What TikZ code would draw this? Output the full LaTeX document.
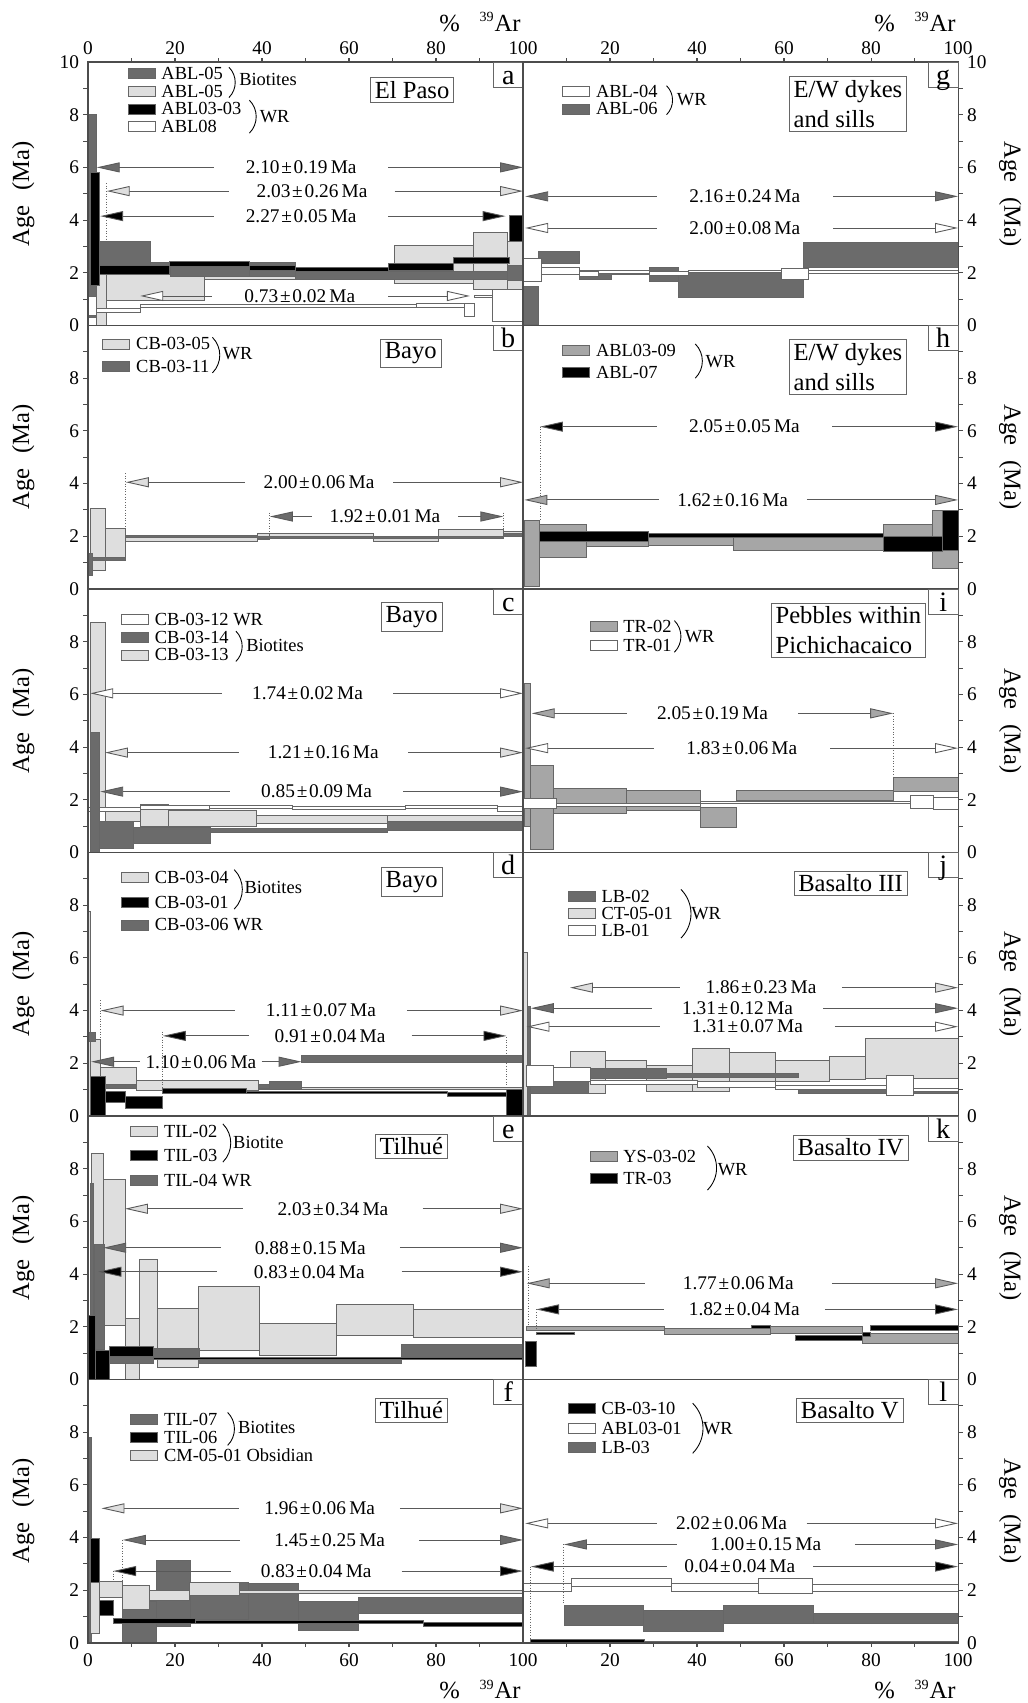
\documentclass[tikz,border=0pt]{standalone}
\usepackage{fontspec}
\setmainfont{Liberation Serif}
\usetikzlibrary{arrows.meta}

\colorlet{dkgr}{black!58}
\colorlet{ltgr}{black!13}
\colorlet{mdgr}{black!35}

\tikzset{
  frame/.style={draw=black!70, line width=0.6pt},
  stp/.style={draw=black!60, line width=0.4pt},
  sdk/.style={stp, fill=dkgr},
  slt/.style={stp, fill=ltgr},
  smd/.style={stp, fill=mdgr},
  sbk/.style={stp, fill=black},
  swt/.style={stp, fill=white},
  ageln/.style={draw=black!65, line width=0.5pt},
  agelab/.style={font=\fontsize{11}{11}\selectfont, inner sep=0pt},
  legtxt/.style={font=\fontsize{10.5}{10}\selectfont, anchor=west, inner sep=0pt},
  namebox/.style={draw=black!60, line width=0.4pt, fill=white, font=\fontsize{14}{17}\selectfont, inner xsep=2.5pt, inner ysep=2pt, align=left},
  letbox/.style={font=\fontsize{16}{16}\selectfont, anchor=base, inner sep=0pt},
  ticklab/.style={font=\fontsize{11}{11}\selectfont, inner sep=0pt},
  axtitle/.style={font=\fontsize{14}{14}\selectfont, inner sep=0pt},
  dots/.style={densely dotted, draw=black!60, line width=0.5pt},
}

% step spectrum: style, list of x1/x2/ylow/yhigh
\newcommand{\specsteps}[2]{\foreach \xa/\xb/\ya/\yb in {#2} \draw[#1] (\xa,\ya) rectangle (\xb,\yb);}
% plateau arrow: fill, x1, x2, y, label x, half gap, label
\newcommand{\agearrow}[7]{%
  \draw[ageln,{Triangle[length=4.6mm,width=2mm,fill=#1]}-] (#2,#4) -- ({#5-#6},#4);
  \draw[ageln,-{Triangle[length=4.6mm,width=2mm,fill=#1]}] ({#5+#6},#4) -- (#3,#4);
  \node[agelab] at (#5,#4) {#7};}
% legend row: style, x, y, text
\newcommand{\legrow}[4]{%
  \draw[#1] (#2,{#3-0.19}) rectangle ({#2+6.2},{#3+0.19});
  \node[legtxt] at ({#2+7.6},#3) {#4};}
% bracket: x, ytop, ybottom, ylabel, text
\newcommand{\grp}[5]{%
  \draw[line width=0.5pt] (#1,#2) to[bend left=45] (#1,#3);
  \node[legtxt] at ({#1+2.3},#4) {#5};}
\newcommand{\leftframe}{%
  \draw[frame] (0,0) rectangle (100,10);
  \foreach \t in {1,...,9} \draw[frame] (0,\t) -- (-1.2,\t);
  \foreach \t in {0,2,4,6,8} \node[ticklab, anchor=east] at (-2,\t) {\t};
  \node[axtitle, rotate=90] at (-14.9,5) {Age\hspace{0.6em}(Ma)};}
\newcommand{\rightframe}{%
  \draw[frame] (0,0) rectangle (100,10);
  \foreach \t in {1,...,9} \draw[frame] (100,\t) -- (101.2,\t);
  \foreach \t in {0,2,4,6,8} \node[ticklab, anchor=west] at (102,\t) {\t};
  \node[axtitle, rotate=-90] at (112,5) {Age\hspace{0.6em}(Ma)};}
\newcommand{\letterbox}[1]{%
  \draw[stp] (93.2,9.05) rectangle (100,10);
  \node[letbox] at (96.6,9.16) {#1};}
\newcommand{\pmsep}{\kern1pt±\kern1pt}

\begin{document}
\begin{tikzpicture}
  \fill[white] (0,0) rectangle (20.56,34.06);
  \useasboundingbox (0,0) rectangle (20.56,34.06);

  % ---------- (a) El Paso ----------
  \begin{scope}[shift={(1.76,27.55)}, x=0.087cm, y=0.527cm]
    \specsteps{slt}{2/4.3/0/2.35, 4.3/26.8/0.95/2.0, 26.8/47.7/1.75/2.0, 47.7/70.5/1.8/2.0, 70.5/88.5/1.6/3.05, 88.5/96.5/1.37/3.53, 96.5/100/1.2/3.2}
    \specsteps{sdk}{0/2/0.3/8.0, 2/14.3/2.1/3.18, 14.3/19/2.15/2.4, 19/37/1.85/2.3, 37/47.7/1.85/2.4, 47.7/96.5/1.75/2.05, 96.5/100/1.7/2.3}
    \specsteps{sbk}{0.5/2.6/1.53/5.83, 2.6/18.8/1.95/2.3, 18.8/37/2.25/2.42, 37/47.7/2.1/2.3, 47.7/69/2.05/2.22, 69/84/2.1/2.35, 84/96.8/2.35/2.6, 96.8/100/3.18/4.19}
    \specsteps{swt}{0/2/0.4/1.1, 2/12/0.5/0.65, 12/75.5/0.7/0.8, 75.5/86.5/0.7/0.85, 86.5/88.8/0.35/0.85, 88.8/93/1.05/1.15, 93/100/0.15/1.37}
    \leftframe
    \foreach \t in {10,20,...,90} \draw[frame] (\t,10) -- (\t,10.15);
    \foreach \t in {0,20,...,100} \node[ticklab] at (\t,10.53) {\t};
    \node[ticklab, anchor=east] at (-2,10) {10};
    \node[axtitle, anchor=east] (arTL) at (99.5,11.52) {\%\hspace{0.8em}\textsuperscript{\footnotesize 39}Ar};
    \legrow{sdk}{9.2}{9.55}{ABL-05}
    \legrow{slt}{9.2}{8.87}{ABL-05}
    \legrow{sbk}{9.2}{8.22}{ABL03-03}
    \legrow{swt}{9.2}{7.55}{ABL08}
    \grp{32.4}{9.8}{8.65}{9.33}{Biotites}
    \grp{37.1}{8.55}{7.3}{7.92}{WR}
    \node[namebox] (elpaso) at (74.5,8.94) {El Paso};
    \letterbox{a}
    \draw[dots] (4.3,5.4) -- (4.3,3.2);
    \agearrow{dkgr}{2}{100}{6.0}{49}{20}{2.10\pmsep0.19\,Ma}
    \agearrow{ltgr}{4.3}{100}{5.1}{51.5}{19}{2.03\pmsep0.26\,Ma}
    \agearrow{black}{2.8}{96}{4.15}{49}{20}{2.27\pmsep0.05\,Ma}
    \agearrow{white}{12}{87.8}{1.12}{48.7}{20.3}{0.73\pmsep0.02\,Ma}
  \end{scope}

  % ---------- (g) E/W dykes and sills ----------
  \begin{scope}[shift={(10.46,27.55)}, x=0.087cm, y=0.527cm]
    \specsteps{sdk}{0/3.5/0.05/1.5, 3.5/13/2.35/2.8, 13/20.4/1.75/2.1, 20.4/29/1.95/2.1, 29/35.7/1.66/2.2, 35.7/64.4/1.05/2.04, 64.4/100/2.2/3.14}
    \specsteps{swt}{0/4.3/1.66/2.54, 4.3/13/1.95/2.2, 13/17.4/1.85/2.05, 17.4/29/1.98/2.1, 29/38/1.9/2.05, 38/59.5/2.02/2.1, 59.5/65.6/1.75/2.15, 65.6/100/1.98/2.08}
    \rightframe
    \foreach \t in {10,20,...,90} \draw[frame] (\t,10) -- (\t,10.15);
    \foreach \t in {20,40,...,100} \node[ticklab] at (\t,10.53) {\t};
    \node[ticklab, anchor=west] at (102,10) {10};
    \node[axtitle, anchor=east] (arTR) at (99.5,11.52) {\%\hspace{0.8em}\textsuperscript{\footnotesize 39}Ar};
    \legrow{swt}{9.1}{8.9}{ABL-04}
    \legrow{sdk}{9.1}{8.22}{ABL-06}
    \grp{33}{9.1}{8.0}{8.56}{WR}
    \node[namebox] (ewA) at (74.7,8.41) {E/W dykes\\and sills};
    \letterbox{g}
    \agearrow{dkgr}{0.5}{100}{4.9}{51}{20.3}{2.16\pmsep0.24\,Ma}
    \agearrow{white}{0.5}{100}{3.7}{51}{20.3}{2.00\pmsep0.08\,Ma}
  \end{scope}

  % ---------- (b) Bayo ----------
  \begin{scope}[shift={(1.76,22.28)}, x=0.087cm, y=0.527cm]
    \specsteps{slt}{0.5/3.9/0.72/3.06, 3.9/8.7/1.1/2.3, 8.7/39/1.8/1.99, 39/41.8/1.9/2.1, 41.8/65.6/1.92/2.1, 65.6/80.5/1.8/2.0, 80.5/95.5/1.95/2.25, 95.5/100/2.0/2.2}
    \specsteps{sdk}{0/1/0.53/1.35, 1/8.7/1.1/1.2, 8.7/39/1.95/2.03, 39/95.5/1.93/2.0, 95.5/100/2.0/2.12}
    \leftframe
    \legrow{slt}{3.4}{9.3}{CB-03-05}
    \legrow{sdk}{3.4}{8.44}{CB-03-11}
    \grp{28.6}{9.55}{8.2}{8.95}{WR}
    \node[namebox] (bayoB) at (74.2,8.95) {Bayo};
    \letterbox{b}
    \draw[dots] (8.7,4.4) -- (8.7,2.3);
    \draw[dots] (41.8,2.9) -- (41.8,2.05);
    \draw[dots] (95.5,2.9) -- (95.5,2.2);
    \agearrow{ltgr}{8.7}{100}{4.05}{53.1}{17.1}{2.00\pmsep0.06\,Ma}
    \agearrow{dkgr}{41.8}{95.5}{2.75}{68.25}{16.85}{1.92\pmsep0.01\,Ma}
  \end{scope}

  % ---------- (h) E/W dykes and sills ----------
  \begin{scope}[shift={(10.46,22.28)}, x=0.087cm, y=0.527cm]
    \specsteps{smd}{0.2/3.75/0.09/2.6, 3.75/14.6/1.2/2.47, 14.6/28.8/1.6/1.92, 28.8/48.4/1.65/2.0, 48.4/82.8/1.48/2.0, 82.8/94/1.5/2.45, 94/100/0.78/3.0}
    \specsteps{sbk}{3.75/28.8/1.8/2.2, 28.8/82.8/1.95/2.1, 82.8/96.5/1.42/2.0, 96.5/100/1.45/3.0}
    \rightframe
    \legrow{smd}{9.1}{9.05}{ABL03-09}
    \legrow{sbk}{9.1}{8.22}{ABL-07}
    \grp{39.6}{9.3}{8.0}{8.63}{WR}
    \node[namebox] (ewB) at (74.7,8.43) {E/W dykes\\and sills};
    \letterbox{h}
    \draw[dots] (3.9,6.16) -- (3.9,2.6);
    \agearrow{black}{3.9}{100}{6.16}{50.9}{20.2}{2.05\pmsep0.05\,Ma}
    \agearrow{mdgr}{0.3}{100}{3.38}{48.2}{17.05}{1.62\pmsep0.16\,Ma}
  \end{scope}

  % ---------- (c) Bayo ----------
  \begin{scope}[shift={(1.76,17.01)}, x=0.087cm, y=0.527cm]
    \specsteps{slt}{0.5/3.9/1.6/8.72, 3.9/12/1.2/1.7, 12/18.5/0.98/1.84, 18.5/38.8/1.0/1.6, 38.8/68.7/1.1/1.4, 68.7/100/1.15/1.4}
    \specsteps{swt}{0/12/1.58/1.72, 12/28/1.65/1.8, 28/47/1.68/1.78, 47/73/1.65/1.75, 73/94/1.67/1.77, 94/100/1.55/1.75}
    \specsteps{sdk}{0.6/2.6/0/4.56, 2.6/10.4/0.16/1.2, 10.4/28.2/0.35/0.95, 28.2/68.7/0.75/0.9, 68.7/100/0.85/1.2}
    \leftframe
    \legrow{swt}{7.7}{8.85}{CB-03-12 WR}
    \legrow{sdk}{7.7}{8.17}{CB-03-14}
    \legrow{slt}{7.7}{7.5}{CB-03-13}
    \grp{34}{8.4}{7.25}{7.85}{Biotites}
    \node[namebox] (bayoC) at (74.4,8.94) {Bayo};
    \letterbox{c}
    \agearrow{white}{0.5}{100}{6.04}{50.45}{19.75}{1.74\pmsep0.02\,Ma}
    \agearrow{ltgr}{3.9}{100}{3.79}{54.1}{19.5}{1.21\pmsep0.16\,Ma}
    \agearrow{dkgr}{2.8}{100}{2.31}{52.55}{19.95}{0.85\pmsep0.09\,Ma}
  \end{scope}

  % ---------- (i) Pebbles within Pichichacaico ----------
  \begin{scope}[shift={(10.46,17.01)}, x=0.087cm, y=0.527cm]
    \specsteps{smd}{0.2/1.6/1.0/6.4, 1.6/7/0.12/3.3, 7/23.8/1.49/2.44, 23.8/40.7/1.6/2.34, 40.7/49.1/0.95/1.71, 49.1/85.1/1.97/2.34, 85.1/100/2.31/2.85}
    \specsteps{swt}{0/7.7/1.68/2.05, 7.7/40.7/1.75/1.85, 40.7/89/1.85/1.95, 89/94.3/1.68/2.18, 94.3/100/1.65/2.1}
    \rightframe
    \legrow{smd}{15.4}{8.58}{TR-02}
    \legrow{swt}{15.4}{7.85}{TR-01}
    \grp{34.8}{8.8}{7.6}{8.2}{WR}
    \node[namebox] (pebbles) at (74.8,8.43) {Pebbles within\\Pichichacaico};
    \letterbox{i}
    \draw[dots] (85.1,5.28) -- (85.1,2.85);
    \agearrow{mdgr}{2.0}{85.1}{5.28}{43.55}{19.75}{2.05\pmsep0.19\,Ma}
    \agearrow{white}{0.5}{100}{3.96}{50.3}{20.3}{1.83\pmsep0.06\,Ma}
  \end{scope}

  % ---------- (d) Bayo ----------
  \begin{scope}[shift={(1.76,11.74)}, x=0.087cm, y=0.527cm]
    \specsteps{slt}{0/0.5/0/7.75, 0.5/2.9/1.5/2.92, 2.9/11.2/1.15/1.83, 11.2/39.2/0.99/1.37, 39.2/49.1/1.0/1.2, 49.1/100/1.0/1.1}
    \specsteps{sdk}{0/1.6/2.82/3.18, 2.9/11.2/1.05/1.2, 39.2/41.8/1.05/1.2, 41.8/49.1/1.0/1.3, 49.1/100/2.04/2.29}
    \specsteps{sbk}{0.6/4.1/0/1.49, 4.1/8.7/0.5/0.95, 8.7/17.2/0.29/0.73, 17.2/36.5/0.85/1.05, 36.5/82.5/0.85/0.95, 82.5/96.2/0.75/0.9, 96.2/100/0/1.0}
    \leftframe
    \legrow{slt}{7.7}{9.06}{CB-03-04}
    \legrow{sbk}{7.7}{8.1}{CB-03-01}
    \legrow{sdk}{7.7}{7.25}{CB-03-06 WR}
    \grp{33.6}{9.35}{7.85}{8.67}{Biotites}
    \node[namebox] (bayoD) at (74.4,8.88) {Bayo};
    \letterbox{d}
    \draw[dots] (2.9,4.4) -- (2.9,2.9);
    \draw[dots] (17.2,3.2) -- (17.2,1.05);
    \draw[dots] (96.2,3.0) -- (96.2,1.0);
    \agearrow{ltgr}{2.9}{100}{4.0}{53.55}{19.75}{1.11\pmsep0.07\,Ma}
    \agearrow{black}{17.2}{96.2}{3.04}{55.65}{18.75}{0.91\pmsep0.04\,Ma}
    \agearrow{dkgr}{0.7}{49.1}{2.06}{25.95}{13.95}{1.10\pmsep0.06\,Ma}
  \end{scope}

  % ---------- (j) Basalto III ----------
  \begin{scope}[shift={(10.46,11.74)}, x=0.087cm, y=0.527cm]
    \specsteps{slt}{0/1/0/6.2, 10.8/18.9/0.86/2.47, 18.9/28.4/1.65/2.1, 28.4/39/0.92/1.94, 39/47.4/0.92/2.57, 47.4/57.9/1.11/2.42, 57.9/70.4/1.3/2.13, 70.4/78.6/1.4/2.25, 78.6/100/1.43/2.95}
    \specsteps{sdk}{1/1.8/0/4.15, 1.8/15/0.86/1.37, 15/33/1.43/1.81, 33/63.3/1.45/1.6, 63.3/100/0.85/1.0}
    \specsteps{swt}{0.8/7/1.11/1.94, 7/15.4/1.3/1.85, 15.4/40/1.2/1.35, 40/58/1.1/1.3, 58/83.6/1.0/1.15, 83.6/89.7/0.8/1.56, 89.7/100/0.95/1.05}
    \rightframe
    \legrow{sdk}{10.4}{8.35}{LB-02}
    \legrow{slt}{10.4}{7.69}{CT-05-01}
    \legrow{swt}{10.4}{7.03}{LB-01}
    \grp{36.3}{8.6}{6.75}{7.69}{WR}
    \node[namebox] (basIII) at (75.3,8.83) {Basalto III};
    \letterbox{j}
    \agearrow{ltgr}{10.8}{100}{4.87}{54.7}{18.6}{1.86\pmsep0.23\,Ma}
    \agearrow{dkgr}{1.8}{100}{4.09}{49.3}{19.7}{1.31\pmsep0.12\,Ma}
    \agearrow{white}{0.8}{100}{3.39}{51.6}{20.1}{1.31\pmsep0.07\,Ma}
  \end{scope}

  % ---------- (e) Tilhue ----------
  \begin{scope}[shift={(1.76,6.47)}, x=0.087cm, y=0.527cm]
    \specsteps{slt}{0.8/3.5/1.12/8.58, 3.5/8.5/2.07/7.6, 8.5/11.8/0/2.32, 11.8/16/1.0/4.56, 16/25.4/0.46/2.7, 25.4/39.5/1.1/3.52, 39.5/57/0.9/2.13, 57/74.8/1.69/2.85, 74.8/100/1.6/2.66}
    \specsteps{sdk}{0.5/1.3/0.49/7.45, 1.4/3.7/1.15/5.13, 3.7/15/0.6/1.1, 15/25.7/0.85/1.2, 25.7/72.1/0.6/0.8, 72.1/100/0.8/1.34}
    \specsteps{sbk}{0/1.8/0/2.43, 1.8/4.9/0/1.1, 4.9/15/0.89/1.27, 15/100/0.75/0.85}
    \leftframe
    \legrow{slt}{9.8}{9.4}{TIL-02}
    \legrow{sbk}{9.8}{8.52}{TIL-03}
    \legrow{sdk}{9.8}{7.57}{TIL-04 WR}
    \grp{31}{9.7}{8.25}{8.99}{Biotite}
    \node[namebox] (tilE) at (74.3,8.84) {Tilhué};
    \letterbox{e}
    \agearrow{ltgr}{8.5}{100}{6.48}{56.3}{20.6}{2.03\pmsep0.34\,Ma}
    \agearrow{dkgr}{3.5}{100}{5.0}{51.1}{20.6}{0.88\pmsep0.15\,Ma}
    \agearrow{black}{2.4}{100}{4.09}{50.85}{21.25}{0.83\pmsep0.04\,Ma}
  \end{scope}

  % ---------- (k) Basalto IV ----------
  \begin{scope}[shift={(10.46,6.47)}, x=0.087cm, y=0.527cm]
    \specsteps{smd}{0.85/32.6/1.85/2.03, 32.6/56.8/1.7/1.95, 56.8/77.9/1.75/2.0, 77.9/100/1.37/1.75}
    \specsteps{sbk}{0.5/3/0.49/1.43, 3/11.8/1.7/1.8, 52.6/56.8/1.95/2.05, 62.5/77.9/1.5/1.68, 77.9/79.8/1.65/1.8, 79.8/100/1.88/2.07}
    \rightframe
    \legrow{smd}{15.4}{8.48}{YS-03-02}
    \legrow{sbk}{15.4}{7.63}{TR-03}
    \grp{42.4}{8.86}{7.19}{7.95}{WR}
    \node[namebox] (basIV) at (75.3,8.8) {Basalto IV};
    \letterbox{k}
    \draw[dots] (1.2,4.3) -- (1.2,2.0);
    \draw[dots] (3.0,2.66) -- (3.0,1.85);
    \agearrow{mdgr}{0.85}{100}{3.65}{49.5}{21.5}{1.77\pmsep0.06\,Ma}
    \agearrow{black}{3.0}{100}{2.66}{50.85}{18.55}{1.82\pmsep0.04\,Ma}
  \end{scope}

  % ---------- (f) Tilhue ----------
  \begin{scope}[shift={(1.76,1.2)}, x=0.087cm, y=0.527cm]
    \specsteps{sdk}{0/0.7/0/7.8, 8/15.6/0/1.57, 15.6/23.6/0.62/3.15, 23.6/36.9/0.9/2.3, 36.9/48.4/0.75/2.25, 48.4/62.1/0.49/1.57, 62.1/100/1.13/1.72}
    \specsteps{slt}{0.5/2.6/0.37/2.3, 2.6/8/1.72/2.35, 8/14.1/1.28/2.18, 14.1/23.4/1.63/2.0, 23.4/34.9/1.82/2.3, 34.9/100/1.9/1.98}
    \specsteps{sbk}{0.5/2.6/2.3/3.97, 2.6/5.8/1.06/1.6, 5.8/24.6/0.75/0.93, 24.6/77.1/0.75/0.85, 77.1/100/0.65/0.8}
    \leftframe
    \foreach \t in {10,20,...,90} \draw[frame] (\t,0) -- (\t,-0.15);
    \foreach \t in {0,20,...,100} \node[ticklab] at (\t,-0.65) {\t};
    \node[axtitle, anchor=east] (arBL) at (99.5,-1.78) {\%\hspace{0.8em}\textsuperscript{\footnotesize 39}Ar};
    \legrow{sdk}{9.8}{8.47}{TIL-07}
    \legrow{sbk}{9.8}{7.8}{TIL-06}
    \legrow{slt}{9.8}{7.14}{CM-05-01 Obsidian}
    \grp{32.1}{8.75}{7.5}{8.17}{Biotites}
    \node[namebox] (tilF) at (74.3,8.84) {Tilhué};
    \letterbox{f}
    \draw[dots] (8,3.9) -- (8,2.35);
    \draw[dots] (5.8,2.73) -- (5.8,2.35);
    \agearrow{ltgr}{3.1}{100}{5.11}{53.25}{18.45}{1.96\pmsep0.06\,Ma}
    \agearrow{dkgr}{8.0}{100}{3.91}{55.55}{20.65}{1.45\pmsep0.25\,Ma}
    \agearrow{black}{5.8}{100}{2.73}{52.45}{19.65}{0.83\pmsep0.04\,Ma}
  \end{scope}

  % ---------- (l) Basalto V ----------
  \begin{scope}[shift={(10.46,1.2)}, x=0.087cm, y=0.527cm]
    \specsteps{swt}{0/11.2/1.97/2.26, 11.2/34.2/2.14/2.45, 34.2/54.1/1.97/2.25, 54.1/66.4/1.88/2.45, 66.4/100/1.97/2.23}
    \specsteps{sdk}{9.4/27.7/0.66/1.42, 27.7/46.1/0.46/1.25, 46.1/66.7/0.75/1.44, 66.7/100/0.75/1.13}
    \specsteps{sbk}{1.8/28/0.04/0.15, 28/100/0/0.06}
    \rightframe
    \foreach \t in {10,20,...,90} \draw[frame] (\t,0) -- (\t,-0.15);
    \foreach \t in {20,40,...,100} \node[ticklab] at (\t,-0.65) {\t};
    \node[axtitle, anchor=east] (arBR) at (99.5,-1.78) {\%\hspace{0.8em}\textsuperscript{\footnotesize 39}Ar};
    \legrow{sbk}{10.4}{8.9}{CB-03-10}
    \legrow{swt}{10.4}{8.15}{ABL03-01}
    \legrow{sdk}{10.4}{7.41}{LB-03}
    \grp{39}{9.1}{7.2}{8.15}{WR}
    \node[namebox] (basV) at (75.1,8.83) {Basalto V};
    \letterbox{l}
    \draw[dots] (9.4,3.74) -- (9.4,1.45);
    \draw[dots] (1.8,2.9) -- (1.8,0.15);
    \agearrow{white}{0.5}{100}{4.54}{47.95}{17.25}{2.02\pmsep0.06\,Ma}
    \agearrow{dkgr}{9.4}{100}{3.74}{55.8}{20.5}{1.00\pmsep0.15\,Ma}
    \agearrow{black}{1.8}{100}{2.9}{49.85}{16.85}{0.04\pmsep0.04\,Ma}
  \end{scope}
\end{tikzpicture}
\end{document}
